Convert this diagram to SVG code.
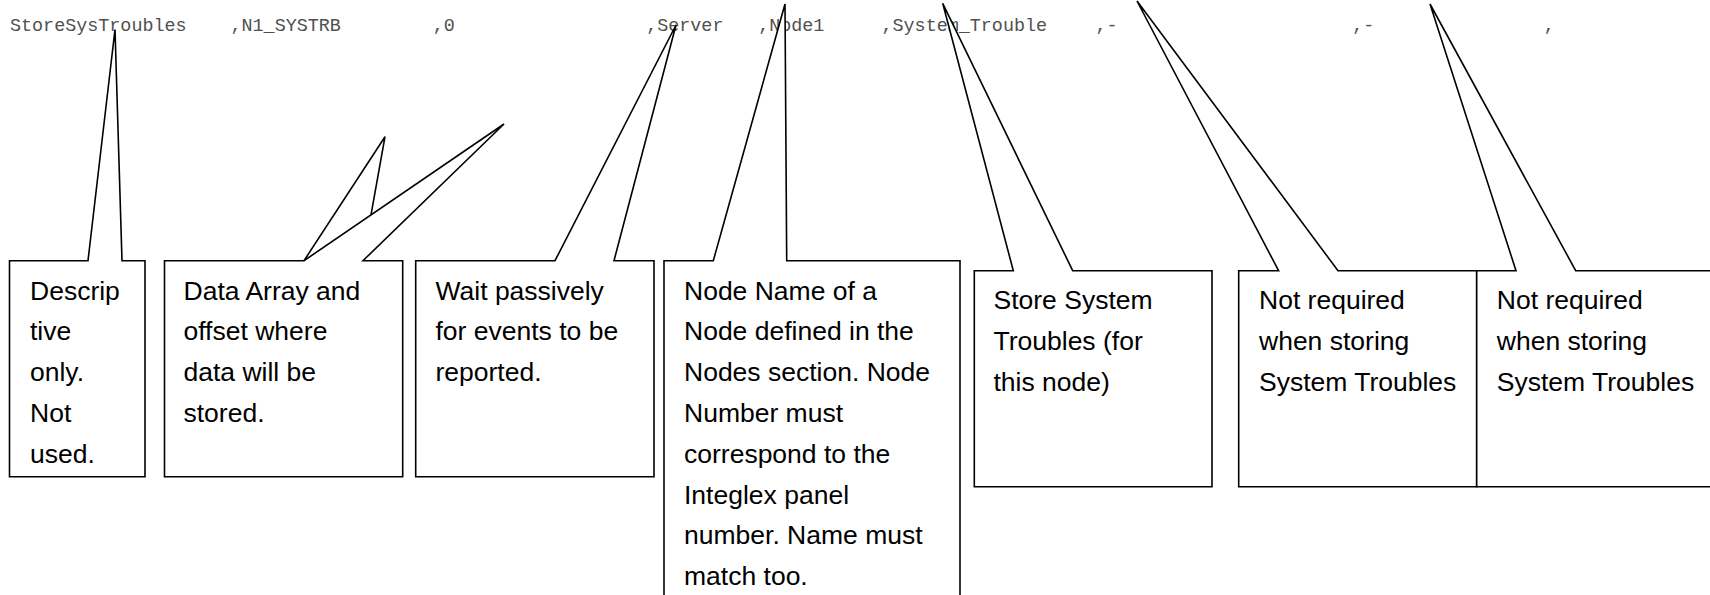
<svg xmlns="http://www.w3.org/2000/svg" width="1710" height="595" viewBox="0 0 1710 595">
<style>
.code{font-family:"Liberation Mono","Courier New",monospace;font-size:18.4px;fill:#505050}
.box{fill:#fff;stroke:#000;stroke-width:1.6;stroke-linejoin:miter}
.ln{fill:none;stroke:#000;stroke-width:1.6}
.lbl{font-family:"Liberation Sans",Arial,sans-serif;font-size:26.5px;fill:#000}
</style>
<rect width="1710" height="595" fill="#fff"/>
<g id="code-line">
<text class="code" x="10" y="30.5">StoreSysTroubles</text>
<text class="code" x="230.5" y="30.5">,N1_SYSTRB</text>
<text class="code" x="432.8" y="30.5">,0</text>
<text class="code" x="646.2" y="30.5">,Server</text>
<text class="code" x="758.2" y="30.5">,Node1</text>
<text class="code" x="881.5" y="30.5">,System_Trouble</text>
<text class="code" x="1095.5" y="30.5">,-</text>
<text class="code" x="1352.2" y="30.5">,-</text>
<text class="code" x="1543.8" y="30.5">,</text>
</g>
<g id="node-descriptive">
<path class="box" d="M9.5,260.7 H88 L115,29.5 L122,260.7 H145 V476.7 H9.5 Z"/>
<text class="lbl" x="30" y="299.5">Descrip</text>
<text class="lbl" x="30" y="340.3">tive</text>
<text class="lbl" x="30" y="381.1">only.</text>
<text class="lbl" x="30" y="421.9">Not</text>
<text class="lbl" x="30" y="462.7">used.</text>
</g>
<g id="node-data-array">
<path class="box" d="M164.5,260.7 H304 L504,124 L363,260.7 H402.7 V476.7 H164.5 Z"/>
<text class="lbl" x="183.5" y="299.5">Data Array and</text>
<text class="lbl" x="183.5" y="340.3">offset where</text>
<text class="lbl" x="183.5" y="381.1">data will be</text>
<text class="lbl" x="183.5" y="421.9">stored.</text>
</g>
<g id="node-wait">
<path class="box" d="M415.7,260.7 H555 L676,25 L614,260.7 H654 V476.7 H415.7 Z"/>
<text class="lbl" x="435.5" y="299.5">Wait passively</text>
<text class="lbl" x="435.5" y="340.3">for events to be</text>
<text class="lbl" x="435.5" y="381.1">reported.</text>
</g>
<g id="node-name">
<path class="box" d="M664,260.7 H713.3 L785,4 L786.7,260.7 H960 V600 H664 Z"/>
<text class="lbl" x="684" y="299.5">Node Name of a</text>
<text class="lbl" x="684" y="340.3">Node defined in the</text>
<text class="lbl" x="684" y="381.1">Nodes section. Node</text>
<text class="lbl" x="684" y="421.9">Number must</text>
<text class="lbl" x="684" y="462.7">correspond to the</text>
<text class="lbl" x="684" y="503.5">Integlex panel</text>
<text class="lbl" x="684" y="544.3">number. Name must</text>
<text class="lbl" x="684" y="585.1">match too.</text>
</g>
<g id="node-store">
<path class="box" d="M974.3,270.7 H1013.3 L942.7,3.3 L1072.7,270.7 H1212 V486.7 H974.3 Z"/>
<text class="lbl" x="993.5" y="309">Store System</text>
<text class="lbl" x="993.5" y="349.8">Troubles (for</text>
<text class="lbl" x="993.5" y="390.6">this node)</text>
</g>
<g id="node-not-required-1">
<path class="box" d="M1238.7,270.7 H1278.6 L1137,1 L1338,270.7 H1476.7 V486.7 H1238.7 Z"/>
<text class="lbl" x="1259" y="309">Not required</text>
<text class="lbl" x="1259" y="349.8">when storing</text>
<text class="lbl" x="1259" y="390.6">System Troubles</text>
</g>
<g id="node-not-required-2">
<path class="box" d="M1476.7,270.7 H1516 L1430,4 L1575.7,270.7 H1720 V486.7 H1476.7 Z"/>
<text class="lbl" x="1496.8" y="309">Not required</text>
<text class="lbl" x="1496.8" y="349.8">when storing</text>
<text class="lbl" x="1496.8" y="390.6">System Troubles</text>
</g>
<g id="connectors">
<path class="ln" d="M304,260.7 L385,136.7 L371,214.9"/>
</g>
</svg>
